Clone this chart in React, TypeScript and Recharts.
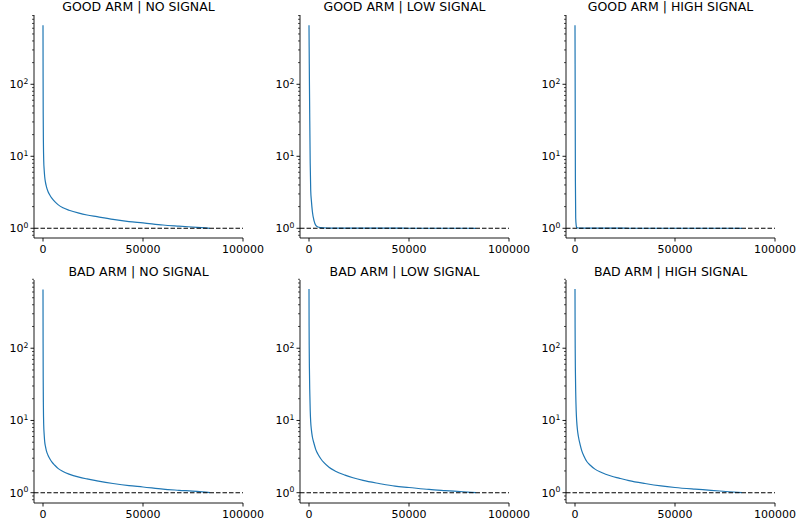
import React from "react";
import { LineChart, Line, XAxis, YAxis, ReferenceLine } from "recharts";

const xSteps = [
  0, 50, 100, 200, 350, 600, 850, 1200, 1700, 2500, 3400, 4500, 5900, 7500, 10000, 13000,
  18000, 22000, 27000, 35000, 43000, 50000, 60000, 68000, 77000, 83500,
];

const goodNoSignal = [
  660, 120, 40, 16, 8.9, 6.4, 5.2, 4.4, 3.8, 3.25, 2.9, 2.6, 2.34, 2.13, 1.93, 1.78,
  1.62, 1.53, 1.45, 1.33, 1.24, 1.19, 1.11, 1.07, 1.03, 1.0,
];
const goodLowSignal = [
  660, 420, 280, 120, 40, 8, 3.4, 2.4, 1.7, 1.28, 1.1, 1.04, 1.02, 1.012, 1.008, 1.006,
  1.005, 1.004, 1.004, 1.003, 1.003, 1.002, 1.002, 1.001, 1.001, 1.0,
];
const goodHighSignal = [
  660, 190, 55, 4.5, 1.4, 1.1, 1.03, 1.015, 1.01, 1.008, 1.006, 1.005, 1.005, 1.004, 1.004, 1.003,
  1.003, 1.003, 1.002, 1.002, 1.002, 1.001, 1.001, 1.001, 1.001, 1.0,
];
const badNoSignal = [
  650, 115, 38, 15.5, 8.7, 6.3, 5.1, 4.4, 3.8, 3.3, 2.95, 2.65, 2.4, 2.17, 1.97, 1.81,
  1.64, 1.55, 1.46, 1.34, 1.25, 1.2, 1.12, 1.08, 1.04, 1.0,
];
const badLowSignal = [
  660, 200, 110, 55, 28, 14, 9.6, 7.4, 5.9, 4.8, 3.95, 3.4, 2.95, 2.6, 2.25, 2.0,
  1.75, 1.61, 1.48, 1.34, 1.23, 1.18, 1.11, 1.07, 1.03, 1.0,
];
const badHighSignal = [
  660, 190, 100, 48, 25, 13.5, 9.8, 7.5, 6.0, 4.7, 3.8, 3.2, 2.7, 2.42, 2.12, 1.92,
  1.7, 1.59, 1.47, 1.34, 1.24, 1.18, 1.12, 1.08, 1.03, 1.0,
];

const panelTitles = [
  "GOOD ARM | NO SIGNAL",
  "GOOD ARM | LOW SIGNAL",
  "GOOD ARM | HIGH SIGNAL",
  "BAD ARM | NO SIGNAL",
  "BAD ARM | LOW SIGNAL",
  "BAD ARM | HIGH SIGNAL",
];
const panelSeries = [goodNoSignal, goodLowSignal, goodHighSignal, badNoSignal, badLowSignal, badHighSignal];

const xTicks = [0, 50000, 100000];
const yMajorTicks = [1, 10, 100];
const yMinorTicks = [0.8, 0.9, 2, 3, 4, 5, 6, 7, 8, 9, 20, 30, 40, 50, 60, 70, 80, 90, 200, 300, 400, 500, 600, 700, 800, 900];
const yTicks = [...yMajorTicks, ...yMinorTicks].sort((a, b) => a - b);
const yLabels: Record<number, string> = { 1: "0", 10: "1", 100: "2" };

const FONT = "DejaVu Sans, sans-serif";
const BLUE = "#1f77b4";

const PLOT_W = 209;
const PLOT_H = 223;
const Y_AXIS_W = 40;
const M_TOP = 15;
const M_RIGHT = 25;
const X_AXIS_H = 20;
const colSpine = [34, 300, 566];
const rowTop = [15, 280];
const rowDomains: [number, number][] = [
  [0.733, 917],
  [0.72, 880],
];

const YTick = (props: any) => {
  const { x, y, payload } = props;
  const v = payload.value;
  const major = yLabels[v] !== undefined;
  return (
    <g>
      <line x1={x} x2={x - (major ? 3.5 : 2)} y1={y} y2={y} stroke="#000" strokeWidth={major ? 0.9 : 0.7} />
      {major && (
        <text x={x - 5.5} y={y + 4} textAnchor="end" fontSize={11} fontFamily={FONT} fill="#000">
          <tspan>10</tspan>
          <tspan dy={-4.5} fontSize={7.7}>{yLabels[v]}</tspan>
        </text>
      )}
    </g>
  );
};

const XTick = (props: any) => {
  const { x, y, payload } = props;
  return (
    <g>
      <line x1={x} x2={x} y1={y} y2={y + 3.5} stroke="#000" strokeWidth={0.9} />
      <text x={x} y={y + 15} textAnchor="middle" fontSize={11} fontFamily={FONT} fill="#000">
        {String(payload.value)}
      </text>
    </g>
  );
};

function Panel({ idx }: { idx: number }) {
  const r = Math.floor(idx / 3);
  const c = idx % 3;
  const values = panelSeries[idx];
  const data = xSteps.map((x, i) => ({ x, y: values[i] }));
  const left = colSpine[c] - Y_AXIS_W;
  const top = rowTop[r] - M_TOP;
  return (
    <div style={{ position: "absolute", left, top }}>
      <LineChart
        width={Y_AXIS_W + PLOT_W + M_RIGHT}
        height={M_TOP + PLOT_H + X_AXIS_H}
        data={data}
        margin={{ top: M_TOP, right: M_RIGHT, bottom: 0, left: 0 }}
      >
        <XAxis
          dataKey="x"
          type="number"
          domain={[-4500, 100000]}
          allowDataOverflow
          ticks={xTicks}
          interval={0}
          height={X_AXIS_H}
          tickSize={0}
          tickMargin={0}
          tickLine={false}
          axisLine={{ stroke: "#000", strokeWidth: 0.9 }}
          tick={<XTick />}
        />
        <YAxis
          type="number"
          scale="log"
          domain={rowDomains[r]}
          allowDataOverflow
          ticks={yTicks}
          interval={0}
          width={Y_AXIS_W}
          tickSize={0}
          tickMargin={0}
          tickLine={false}
          axisLine={{ stroke: "#000", strokeWidth: 0.9 }}
          tick={<YTick />}
        />
        <Line
          type="monotone"
          dataKey="y"
          stroke={BLUE}
          strokeWidth={1.2}
          dot={false}
          isAnimationActive={false}
        />
        <ReferenceLine y={1} stroke="#000" strokeWidth={1.1} strokeDasharray="4.5 2" />
      </LineChart>
    </div>
  );
}

export default function App() {
  return (
    <div style={{ position: "absolute", left: 0, top: 0, width: 798, height: 527, background: "#fff" }}>
      {panelTitles.map((_, i) => (
        <Panel key={i} idx={i} />
      ))}
      <svg width={798} height={527} style={{ position: "absolute", left: 0, top: 0, pointerEvents: "none" }}>
        {panelTitles.map((t, i) => {
          const r = Math.floor(i / 3);
          const c = i % 3;
          return (
            <text
              key={t}
              x={colSpine[c] + PLOT_W / 2}
              y={r === 0 ? 11.3 : 275.5}
              textAnchor="middle"
              fontSize={12.5}
              fontFamily={FONT}
              fill="#000"
            >
              {t}
            </text>
          );
        })}
      </svg>
    </div>
  );
}
